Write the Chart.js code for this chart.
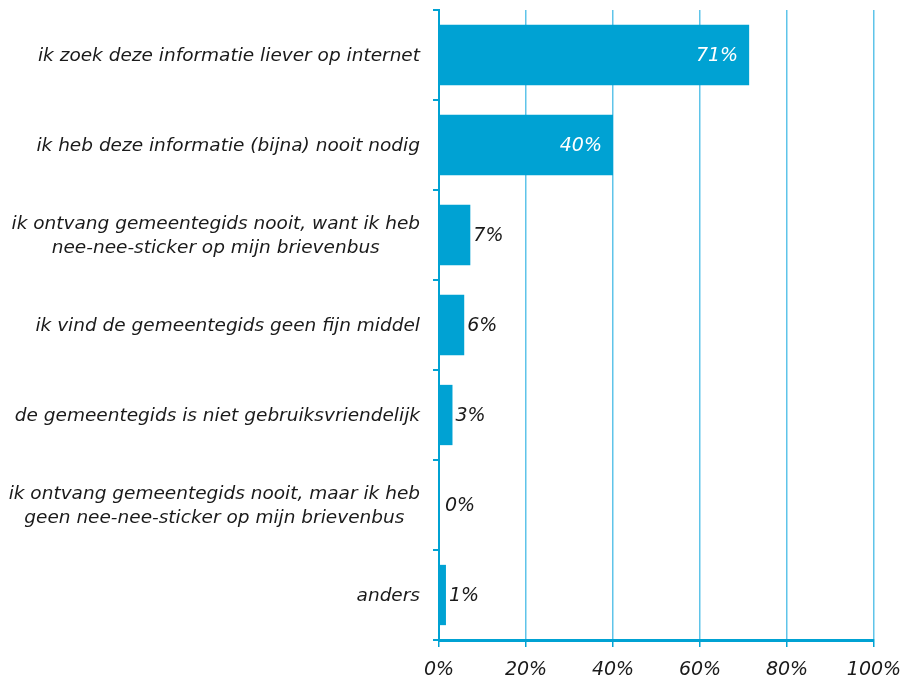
<!DOCTYPE html>
<html>
<head>
<meta charset="utf-8">
<script src="https://cdn.jsdelivr.net/npm/chart.js@4"></script>
<style>
  html, body { margin: 0; padding: 0; background: #fff; }
  #wrap { width: 914px; height: 684px; position: relative; }
</style>
</head>
<body>
<div id="wrap"><canvas id="chart"></canvas></div>
<script>
const categories = [
    ['ik zoek deze informatie liever op internet'],
    ['ik heb deze informatie (bijna) nooit nodig'],
    ['ik ontvang gemeentegids nooit, want ik heb', 'nee-nee-sticker op mijn brievenbus'],
    ['ik vind de gemeentegids geen fijn middel'],
    ['de gemeentegids is niet gebruiksvriendelijk'],
    ['ik ontvang gemeentegids nooit, maar ik heb', 'geen nee-nee-sticker op mijn brievenbus'],
    ['anders']
];
const values = [71.3, 40, 7.2, 5.8, 3.1, 0, 1.6];
const valueLabels = ['71%', '40%', '7%', '6%', '3%', '0%', '1%'];
const xTicks = [0, 20, 40, 60, 80, 100];

const BLUE = '#00a2d3';
const GRID = '#5fc4e9';
const FONT = '"DejaVu Sans", Verdana, sans-serif';

/* ---------- CATEGORY LABELS (lines centred, block right-aligned) ---------- */
const categoryLabelPlugin = {
    id: 'categoryLabels',
    afterDraw(chart) {
        const ctx = chart.ctx;
        const y = chart.scales.y;
        ctx.save();
        ctx.font = 'italic 18.5px ' + FONT;
        ctx.fillStyle = '#1a1a1a';
        ctx.textAlign = 'center';
        ctx.textBaseline = 'middle';
        const right = y.right - 19;
        categories.forEach((lines, i) => {
            const maxW = Math.max(...lines.map(l => ctx.measureText(l).width));
            const cx = right - maxW / 2;
            const cy = y.getPixelForValue(i) + 1;
            const lh = 24;
            lines.forEach((l, j) => {
                ctx.fillText(l, cx, cy + (j - (lines.length - 1) / 2) * lh);
            });
        });
        ctx.restore();
    }
};

/* ---------- VALUE LABELS ---------- */
const valueLabelPlugin = {
    id: 'valueLabels',
    afterDatasetsDraw(chart) {
        const ctx = chart.ctx;
        const meta = chart.getDatasetMeta(0);
        ctx.save();
        ctx.font = 'italic 19px ' + FONT;
        ctx.textBaseline = 'middle';
        meta.data.forEach((bar, i) => {
            if (values[i] > 20) {
                ctx.fillStyle = '#ffffff';
                ctx.textAlign = 'right';
                ctx.fillText(valueLabels[i], bar.x - 11, bar.y + 1);
            } else {
                ctx.fillStyle = '#1a1a1a';
                ctx.textAlign = 'left';
                ctx.fillText(valueLabels[i], bar.x + (values[i] > 0 ? 3 : 6), bar.y + 1);
            }
        });
        ctx.restore();
    }
};

new Chart(document.getElementById('chart'), {
    type: 'bar',
    plugins: [categoryLabelPlugin, valueLabelPlugin],
    data: {
        labels: categories,
        datasets: [{
            data: values,
            backgroundColor: BLUE,
            borderWidth: 0,
            barPercentage: 0.67,
            categoryPercentage: 1
        }]
    },
    options: {
        indexAxis: 'y',
        responsive: true,
        maintainAspectRatio: false,
        animation: false,
        layout: { padding: { top: 10, right: 40, left: 0, bottom: 0 } },
        plugins: { legend: { display: false }, tooltip: { enabled: false } },
        scales: {
            x: {
                min: 0,
                max: 100,
                afterBuildTicks(scale) {
                    scale.ticks = xTicks.map(v => ({ value: v }));
                },
                afterFit(scale) { scale.height = 44; },
                grid: {
                    color: ctx => ctx.index === 0 ? 'rgba(0,0,0,0)' : GRID,
                    lineWidth: 1.5,
                    tickColor: BLUE,
                    tickLength: 7,
                    drawTicks: true
                },
                border: { color: BLUE, width: 3 },
                ticks: {
                    color: '#1a1a1a',
                    padding: 12,
                    font: { family: FONT, size: 19, style: 'italic' },
                    callback: v => v + '%'
                }
            },
            y: {
                afterFit(scale) { scale.width = 439; },
                grid: {
                    display: true,
                    offset: true,
                    drawOnChartArea: false,
                    color: BLUE,
                    lineWidth: 2,
                    tickLength: 6
                },
                border: { color: BLUE, width: 2 },
                ticks: { color: 'rgba(0,0,0,0)', font: { size: 1 } }
            }
        }
    }
});
</script>
</body>
</html>
